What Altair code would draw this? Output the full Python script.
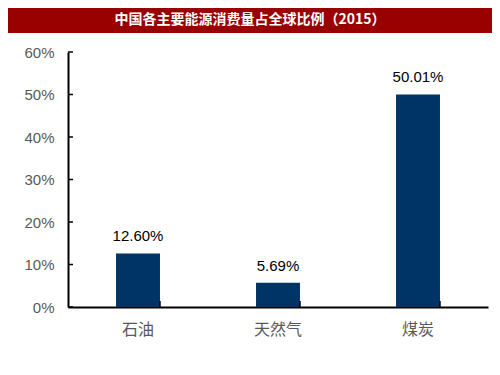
import altair as alt
import pandas as pd

categories = ["石油", "天然气", "煤炭"]
values = [12.60, 5.69, 50.01]
labels = ["12.60%", "5.69%", "50.01%"]
y_ticks = [0, 10, 20, 30, 40, 50, 60]
title_text = "中国各主要能源消费量占全球比例（2015）"

df = pd.DataFrame({"cat": categories, "val": values, "lab": labels})
tick_df = pd.DataFrame({"t": y_ticks})

W, H = 420, 255

xscale = alt.Scale(domain=categories, paddingInner=0.686, paddingOuter=0.343)
yscale = alt.Scale(domain=[0, 60], nice=False)

bars = alt.Chart(df).mark_bar(color="#003366").encode(
    x=alt.X("cat:N", scale=xscale, sort=categories,
            axis=alt.Axis(title=None, labelAngle=0, labelFont="Noto Sans CJK SC",
                          labelFontSize=16, labelColor="#595959", labelPadding=14,
                          ticks=False, domainColor="black", domainWidth=2)),
    y=alt.Y("val:Q", scale=yscale,
            axis=alt.Axis(title=None, values=y_ticks, labelExpr="datum.value + '%'",
                          labelFont="Liberation Sans", labelFontSize=15,
                          labelColor="#595959", labelPadding=14, ticks=False,
                          grid=False, domainColor="black", domainWidth=2)),
)

text = alt.Chart(df).mark_text(font="Liberation Sans", fontSize=15, color="black",
                               dy=-12, baseline="alphabetic").encode(
    x=alt.X("cat:N", scale=xscale, sort=categories),
    y=alt.Y("val:Q", scale=yscale),
    text="lab:N",
)

yticks = alt.Chart(tick_df).mark_rule(color="black", strokeWidth=1.5).encode(
    y=alt.Y("t:Q", scale=yscale),
    x=alt.value(0), x2=alt.value(5),
)

xticks = alt.Chart(df).mark_rule(color="black", strokeWidth=1.5).encode(
    x=alt.X("cat:N", scale=xscale, sort=categories, bandPosition=1),
    y=alt.value(H), y2=alt.value(H - 6),
)

banner = alt.Chart(pd.DataFrame({"t": [title_text]})).mark_rect(color="#990000").encode(
    x=alt.value(-60), x2=alt.value(429), y=alt.value(-44), y2=alt.value(-19),
)
title = alt.Chart(pd.DataFrame({"t": [title_text]})).mark_text(
    font="Noto Sans CJK SC", fontWeight="bold", fontSize=14, color="white",
    align="center", baseline="middle").encode(
    x=alt.value(182), y=alt.value(-32), text="t:N")

chart = alt.layer(banner, title, bars, text, yticks, xticks).properties(
    width=W, height=H,
    padding={"left": 60, "top": 44, "right": 4, "bottom": 60},
    autosize=alt.AutoSizeParams(type="none"),
).configure_view(stroke=None)

chart.save("out.html", embed_options={"renderer": "svg", "actions": False})
